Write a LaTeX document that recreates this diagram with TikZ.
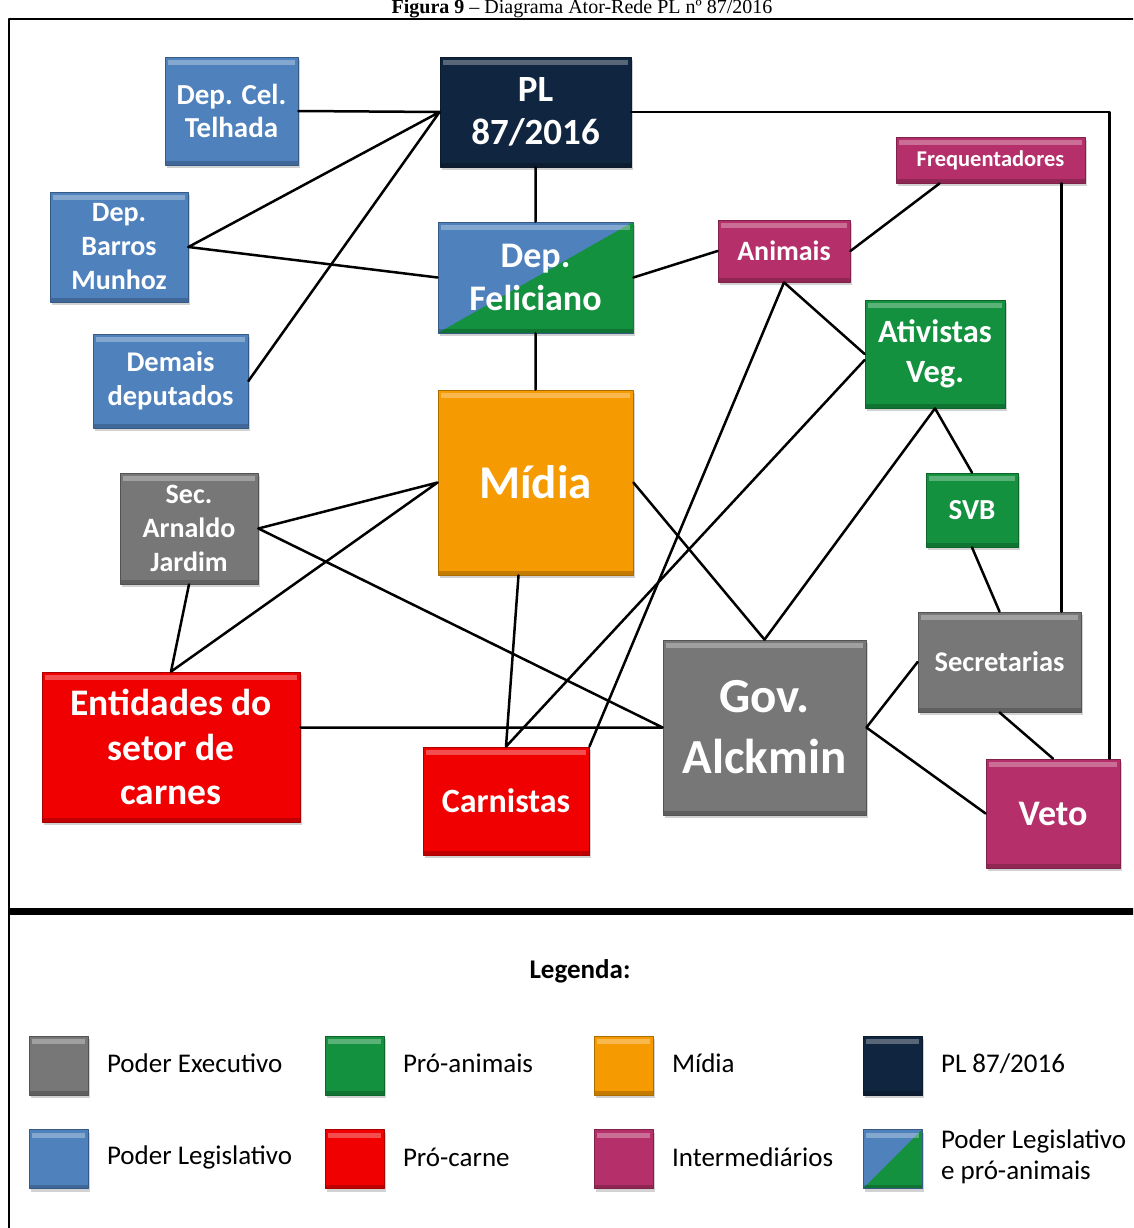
\documentclass[tikz,border=0pt]{standalone}
\usepackage{fontspec}
\setmainfont{Carlito}
\newfontfamily\titlefont{Liberation Serif}
\usetikzlibrary{calc,shadows}
\definecolor{azul}{HTML}{4F81BD}
\definecolor{marinho}{HTML}{10253F}
\definecolor{verde}{HTML}{13913F}
\definecolor{laranja}{HTML}{F59A00}
\definecolor{cinza}{HTML}{777777}
\definecolor{vermelho}{HTML}{F00000}
\definecolor{vinho}{HTML}{B5306A}
\newcommand\sz[2]{\fontsize{#1}{#2}\selectfont}
\newcommand\bevel{%
  \fill[white,opacity=.3] ([shift={(3pt,-3pt)}]path picture bounding box.north west) rectangle ([shift={(-3pt,-8pt)}]path picture bounding box.north east);
  \fill[black,opacity=.2] (path picture bounding box.south west) rectangle ([yshift=4pt]path picture bounding box.south east);}
\tikzset{
  ator/.style={rectangle, inner sep=0pt, align=center, text=white, line width=.8pt,
    drop shadow={shadow xshift=2pt, shadow yshift=-3pt, opacity=.35}, path picture={\bevel}},
  tam/.style 2 args={minimum width=#1pt, minimum height=#2pt},
  executivo/.style={fill=cinza, draw=cinza!70!black},
  legislativo/.style={fill=azul, draw=azul!70!black},
  proanimal/.style={fill=verde, draw=verde!70!black},
  procarne/.style={fill=vermelho, draw=vermelho!70!black},
  midiacor/.style={fill=laranja, draw=laranja!70!black},
  intermed/.style={fill=vinho, draw=vinho!70!black},
  projeto/.style={fill=marinho, draw=marinho!70!black},
  misto/.style={fill=azul, draw=azul!70!black, path picture={%
    \fill[verde] (path picture bounding box.south west) -- (path picture bounding box.south east) -- (path picture bounding box.north east) -- cycle; \bevel}},
  link/.style={line width=2.5pt, line cap=round},
  legtxt/.style={anchor=west, align=left, font=\sz{27}{31}}
}
\begin{document}
\begin{tikzpicture}[x=1pt, y=-1pt, line join=round]
  \clip (0,0) rectangle (1133,1228);
  \fill[white] (0,0) rectangle (1133,1228);
  \node[font=\titlefont\sz{20}{24}, anchor=base] (titulo) at (582,13.5) {\textbf{Figura 9} – Diagrama Ator-Rede PL nº 87/2016};
  \draw[line width=2pt] (9,1240) -- (9,19) -- (1145,19);
  \draw[line width=7pt] (9,911) -- (1145,911);
  % atores
  \node[ator,legislativo,tam={133}{108},font=\bfseries\sz{29}{33}] (telhada) at (231.5,111) {Dep. Cel.\\Telhada};
  \node[ator,projeto,tam={191}{110},font=\bfseries\sz{37}{43}] (pl) at (535.5,112) {PL\\87/2016};
  \node[ator,legislativo,tam={138}{110},font=\bfseries\sz{28}{34}] (barros) at (119,247) {Dep.\\Barros\\Munhoz};
  \node[ator,misto,tam={195}{111},font=\bfseries\sz{36}{43}] (feliciano) at (535.5,277.5) {Dep.\\Feliciano};
  \node[ator,legislativo,tam={155}{94},font=\bfseries\sz{28.5}{34}] (demais) at (170.5,381) {Demais\\deputados};
  \node[ator,intermed,tam={132}{62},font=\bfseries\sz{28}{34}] (animais) at (784,251) {Animais};
  \node[ator,intermed,tam={189}{46},font=\bfseries\sz{22.5}{27}] (freq) at (990.5,160) {Frequentadores};
  \node[ator,proanimal,tam={140}{108},font=\bfseries\sz{32.5}{40}] (ativistas) at (935,354) {Ativistas\\Veg.};
  \node[ator,midiacor,tam={195}{185},font=\bfseries\sz{47}{56}] (midia) at (535.5,482.5) {Mídia};
  \node[ator,executivo,tam={138}{111},font=\bfseries\sz{28}{34}] (arnaldo) at (189,528.5) {Sec.\\Arnaldo\\Jardim};
  \node[ator,proanimal,tam={92}{74},font=\bfseries\sz{29}{34}] (svb) at (972,510) {SVB};
  \node[ator,executivo,tam={163}{100},font=\bfseries\sz{28.5}{34}] (secret) at (999.5,662) {Secretarias};
  \node[ator,executivo,tam={203}{175},font=\bfseries\sz{49}{61}] (gov) at (764.5,727.5) {Gov.\\Alckmin};
  \node[ator,procarne,tam={258}{150},font=\bfseries\sz{37.5}{44.5}] (entidades) at (171,747) {Entidades do\\setor de\\carnes};
  \node[ator,procarne,tam={166}{108},font=\bfseries\sz{34}{40}] (carnistas) at (506,801) {Carnistas};
  \node[ator,intermed,tam={134}{109},font=\bfseries\sz{36}{43}] (veto) at (1053,813.5) {Veto};
  % ligacoes
  \draw[link] (telhada.east) -- (pl.west) (pl.west) -- (barros.east) (pl.west) -- (demais.east);
  \draw[link] (barros.east) -- (feliciano.west) (pl.south) -- (feliciano.north) (feliciano.south) -- (midia.north);
  \draw[link] (feliciano.east) -- (animais.west) (animais.east) -- ([xshift=44pt]freq.south west);
  \draw[link] (animais.south) -- (ativistas.west) (animais.south) -- (carnistas.north east);
  \draw[link] ([yshift=-6pt]ativistas.west) -- (carnistas.north) ([xshift=-17pt]midia.south) -- (carnistas.north);
  \draw[link] (ativistas.south) -- (gov.north) (ativistas.south) -- (svb.north) (svb.south) -- (secret.north);
  \draw[link] ([xshift=-24pt]freq.south east) coordinate (f1) -- (f1 |- secret.north);
  \draw[link] (pl.east) -| ([xshift=-11pt]veto.north east);
  \draw[link] (secret.south) -- (veto.north) (secret.west) -- (gov.east) (gov.east) -- (veto.west);
  \draw[link] (midia.east) -- (gov.north) (midia.west) -- (arnaldo.east) (midia.west) -- (entidades.north);
  \draw[link] (arnaldo.south) -- (entidades.north) (arnaldo.east) -- (gov.west) (gov.west -| entidades.east) -- (gov.west);
  % legenda
  \node[font=\bfseries\sz{27}{32}] (legenda) at (580,971) {Legenda:};
  \foreach \cat/\px/\py/\txt in {executivo/58.5/1065.5/Poder Executivo, proanimal/354.5/1065.5/Pró-animais,
      midiacor/623.5/1065.5/Mídia, projeto/892.5/1065.5/{PL 87/2016},
      legislativo/58.5/1159/Poder Legislativo, procarne/354.5/1159/Pró-carne,
      intermed/623.5/1159/Intermediários, misto/892.5/1159/{Poder Legislativo\\e pró-animais}}{
    \node[ator,\cat,tam={59}{59}] (leg-\cat) at (\px,\py) {};
    \node[legtxt] (txt-\cat) at (\px+45,\py-2) {\txt};
  }
\end{tikzpicture}
\end{document}
